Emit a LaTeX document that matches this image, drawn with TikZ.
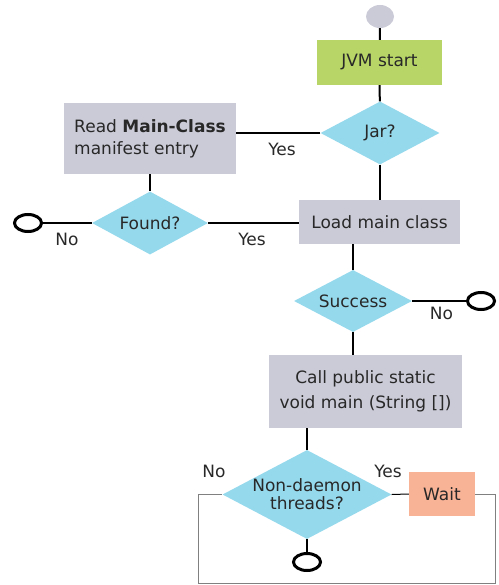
\documentclass[tikz,border=0pt]{standalone}
\usepackage{fontspec}
\setmainfont{DejaVu Sans}
\usetikzlibrary{shapes.geometric}
\definecolor{txt}{RGB}{40,40,40}
\definecolor{jvmgreen}{RGB}{184,214,104}
\definecolor{boxgray}{RGB}{203,203,216}
\definecolor{decisionblue}{RGB}{149,217,236}
\definecolor{waitpink}{RGB}{248,178,150}
\definecolor{loopgray}{RGB}{128,128,128}

\begin{document}
\begin{tikzpicture}[x=1pt,y=-1pt,
    every node/.style={font=\fontsize{17}{23}\selectfont,text=txt},
    box/.style={fill=boxgray,inner sep=0pt,align=center},
    decision/.style={diamond,aspect=1.9,fill=decisionblue,inner sep=-4pt,align=center},
    stopball/.style={ellipse,draw=black,line width=3pt,fill=white,minimum width=27pt,minimum height=17pt,inner sep=0pt},
    lbl/.style={inner sep=0pt},
    flow/.style={line width=2pt},
    loopline/.style={draw=loopgray,line width=1pt}]
    \useasboundingbox (0,0) rectangle (498,585);

    \node[ellipse,fill=boxgray,minimum width=28pt,minimum height=23pt,inner sep=0pt] (start) at (380,16.5) {};
    \node[box,fill=jvmgreen,minimum width=125pt,minimum height=45pt] (jvm) at (379.5,62.5) {JVM start};
    \node[decision,minimum width=119pt,minimum height=63pt] (jar) at (380,133) {Jar?};
    \node[box,align=left,minimum width=172pt,minimum height=71pt,font=\fontsize{17}{22}\selectfont] (read) at (150,138.5) {Read \textbf{Main-Class}\\manifest entry};
    \node[box,minimum width=161pt,minimum height=44pt] (load) at (379.5,222) {Load main class};
    \node[decision,minimum width=116pt,minimum height=63pt] (found) at (150,223) {Found?};
    \node[stopball] (endFound) at (28,223) {};
    \node[decision,minimum width=118pt,minimum height=62pt] (success) at (353,301) {Success};
    \node[stopball] (endSuccess) at (481,301) {};
    \node[box,minimum width=193pt,minimum height=73pt,font=\fontsize{17}{25}\selectfont] (call) at (365.5,391.5) {Call public static\\void main (String [])};
    \node[decision,minimum width=169pt,minimum height=89pt,font=\fontsize{17}{18}\selectfont] (daemon) at (307,494.5) {Non-daemon\\threads?};
    \node[box,fill=waitpink,minimum width=66pt,minimum height=44pt] (wait) at (442,494) {Wait};
    \node[stopball] (endMain) at (307,562) {};

    \coordinate (loopR) at (495,494);
    \coordinate (loopL) at (198,583);

    \draw[flow] (start) -- (jvm);
    \draw[flow] (jvm) -- (jar);
    \draw[flow] (jar.west) -- (jar.west -| read.east);
    \draw[flow] (jar) -- (jar |- load.north);
    \draw[flow] (read) -- (found);
    \draw[flow] (found.east) -- (found.east -| load.west);
    \draw[flow] (found.west) -- (endFound);
    \draw[flow] (success.north |- load.south) -- (success.north);
    \draw[flow] (success.east) -- (endSuccess);
    \draw[flow] (success.south) -- (success.south |- call.north);
    \draw[flow] (daemon.north |- call.south) -- (daemon.north);
    \draw[flow] (daemon.south) -- (endMain);
    \draw[line width=1pt] (daemon.east) -- (wait.west);
    \draw[loopline] (wait.east) -- (loopR) |- (loopL) |- (daemon.west);

    \foreach \name/\pos/\txt in {yesJar/{(282,149)}/Yes, noFound/{(67,239)}/No, yesFound/{(252,239)}/Yes,
        noSuccess/{(441.5,313.5)}/No, noDaemon/{(214,471.5)}/No, yesDaemon/{(388,471.5)}/Yes}
        \node[lbl] (\name) at \pos {\txt};
\end{tikzpicture}
\end{document}
